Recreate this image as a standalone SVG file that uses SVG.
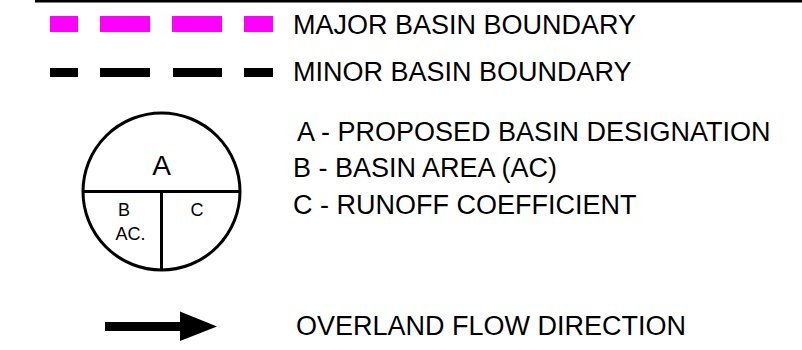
<svg xmlns="http://www.w3.org/2000/svg" width="802" height="350" viewBox="0 0 802 350">
<style>
.t{font-family:"Liberation Sans",Arial,sans-serif;fill:#000;font-size:27px}
.s{font-family:"Liberation Sans",Arial,sans-serif;fill:#000;font-size:18px}
.mag{fill:#ff00ff}
.blk{fill:#000}
.ln{stroke:#000;stroke-width:3;fill:none}
</style>
<rect x="0" y="0" width="802" height="350" fill="#fff"/>
<line x1="35" y1="1" x2="802" y2="1" stroke="#000" stroke-width="3"/>
<g id="major-boundary">
<rect class="mag" x="50" y="16" width="28" height="16"/>
<rect class="mag" x="100" y="16" width="50" height="16"/>
<rect class="mag" x="172" y="16" width="50" height="16"/>
<rect class="mag" x="244" y="16" width="29" height="16"/>
<text class="t" x="293" y="33.5">MAJOR BASIN BOUNDARY</text>
</g>
<g id="minor-boundary">
<rect class="blk" x="50" y="68" width="28" height="9"/>
<rect class="blk" x="100" y="68" width="50" height="9"/>
<rect class="blk" x="173" y="68" width="49" height="9"/>
<rect class="blk" x="244" y="68" width="29" height="9"/>
<text class="t" x="293" y="81">MINOR BASIN BOUNDARY</text>
</g>
<g id="basin-symbol">
<circle class="ln" cx="161.5" cy="191.5" r="78.5"/>
<line class="ln" x1="83" y1="191.5" x2="240" y2="191.5"/>
<line class="ln" x1="161.5" y1="191.5" x2="161.5" y2="270"/>
<text class="t" x="161.5" y="175" text-anchor="middle" style="font-size:28px">A</text>
<text class="s" x="124" y="216" text-anchor="middle">B</text>
<text class="s" x="130.5" y="240" text-anchor="middle">AC.</text>
<text class="s" x="197" y="216" text-anchor="middle">C</text>
</g>
<g id="basin-legend">
<text class="t" x="297" y="141">A - PROPOSED BASIN DESIGNATION</text>
<text class="t" x="293" y="177">B - BASIN AREA (AC)</text>
<text class="t" x="293" y="214">C - RUNOFF COEFFICIENT</text>
</g>
<g id="connectors">
<g id="flow-arrow">
<rect class="blk" x="105" y="322" width="76" height="9"/>
<polygon class="blk" points="180,311.5 217,326.5 180,341"/>
</g>
</g>
<g id="flow-label">
<text class="t" x="296" y="335">OVERLAND FLOW DIRECTION</text>
</g>
</svg>
